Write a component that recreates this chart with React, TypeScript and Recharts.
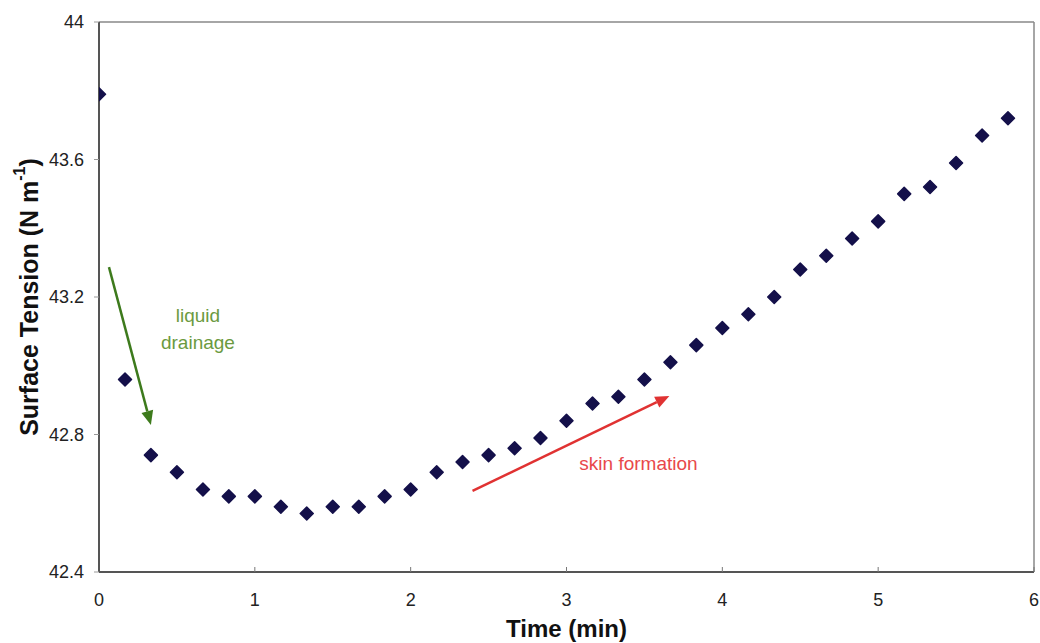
import React from "react";
import {
  ScatterChart,
  Scatter,
  XAxis,
  YAxis,
  ReferenceLine,
  ReferenceDot,
} from "recharts";

const times = [
  0, 0.167, 0.333, 0.5, 0.667, 0.833, 1.0, 1.167, 1.333, 1.5, 1.667, 1.833,
  2.0, 2.167, 2.333, 2.5, 2.667, 2.833, 3.0, 3.167, 3.333, 3.5, 3.667, 3.833,
  4.0, 4.167, 4.333, 4.5, 4.667, 4.833, 5.0, 5.167, 5.333, 5.5, 5.667, 5.833,
];
const tension = [
  43.79, 42.96, 42.74, 42.69, 42.64, 42.62, 42.62, 42.59, 42.57, 42.59, 42.59,
  42.62, 42.64, 42.69, 42.72, 42.74, 42.76, 42.79, 42.84, 42.89, 42.91, 42.96,
  43.01, 43.06, 43.11, 43.15, 43.2, 43.28, 43.32, 43.37, 43.42, 43.5, 43.52,
  43.59, 43.67, 43.72,
];
const xTicks = [0, 1, 2, 3, 4, 5, 6];
const yTicks = [42.4, 42.8, 43.2, 43.6, 44];

const drainageArrow = [
  { x: 0.064, y: 43.287 },
  { x: 0.333, y: 42.828 },
];
const skinArrow = [
  { x: 2.397, y: 42.636 },
  { x: 3.66, y: 42.912 },
];
const annotations = [
  { x: 0.635, y: 43.145, text: "liquid", color: "#6b9a40" },
  { x: 0.635, y: 43.069, text: "drainage", color: "#6b9a40" },
  { x: 3.462, y: 42.717, text: "skin formation", color: "#e8484b" },
];

const data = times.map((t, i) => ({ t, v: tension[i] }));

const FONT = "'Liberation Sans', Arial, sans-serif";

const Diamond = (props: any) => {
  const { cx, cy } = props;
  if (cx == null || cy == null) return null;
  const r = 6.5;
  return (
    <path
      d={`M${cx},${cy - r} L${cx + r},${cy} L${cx},${cy + r} L${cx - r},${cy} Z`}
      fill="#14104a"
      stroke="#14104a"
      strokeWidth={1.5}
      strokeLinejoin="round"
    />
  );
};

const makeArrow = (color: string, width: number) => (props: any) => {
  const { x1, y1, x2, y2 } = props;
  if ([x1, y1, x2, y2].some((v) => v == null || isNaN(v))) return null;
  const dx = x2 - x1;
  const dy = y2 - y1;
  const len = Math.sqrt(dx * dx + dy * dy);
  const ux = dx / len;
  const uy = dy / len;
  const hl = 14;
  const hw = 6;
  const bx = x2 - ux * hl;
  const by = y2 - uy * hl;
  const px = -uy;
  const py = ux;
  return (
    <g>
      <line x1={x1} y1={y1} x2={bx} y2={by} stroke={color} strokeWidth={width} />
      <polygon
        points={`${x2},${y2} ${bx + px * hw},${by + py * hw} ${bx - px * hw},${by - py * hw}`}
        fill={color}
      />
    </g>
  );
};

const YLabel = (props: any) => {
  const vb = props.viewBox || {};
  const cx = (vb.x ?? 0) + 29;
  const cy = (vb.y ?? 0) + (vb.height ?? 0) / 2;
  return (
    <text
      x={cx}
      y={cy}
      transform={`rotate(-90, ${cx}, ${cy})`}
      textAnchor="middle"
      dominantBaseline="central"
      fontFamily={FONT}
      fontWeight="bold"
      fontSize={25}
      fill="#111"
    >
      Surface Tension (N m
      <tspan fontSize={16} dy={-10}>
        -1
      </tspan>
      <tspan dy={10}>)</tspan>
    </text>
  );
};

const XLabel = (props: any) => {
  const vb = props.viewBox || {};
  const cx = (vb.x ?? 0) + (vb.width ?? 0) / 2;
  return (
    <text
      x={cx}
      y={637}
      textAnchor="middle"
      fontFamily={FONT}
      fontWeight="bold"
      fontSize={24}
      fill="#111"
    >
      Time (min)
    </text>
  );
};

const fmt = (v: number) => String(Number(v.toFixed(1)));

export default function App() {
  return (
    <div style={{ position: "absolute", left: 0, top: 0, background: "#fff" }}>
      <ScatterChart
        width={1040}
        height={643}
        margin={{ top: 22, right: 6, bottom: 0, left: 0 }}
      >
        <XAxis
          type="number"
          dataKey="t"
          domain={[0, 6]}
          ticks={xTicks}
          tickFormatter={fmt}
          height={71}
          tickSize={-5}
          tickMargin={26}
          axisLine={{ stroke: "#555", strokeWidth: 2 }}
          tickLine={{ stroke: "#777" }}
          tick={{ fill: "#222", fontSize: 18, fontFamily: FONT }}
          label={<XLabel />}
          allowDataOverflow
        />
        <YAxis
          type="number"
          dataKey="v"
          domain={[42.4, 44]}
          ticks={yTicks}
          tickFormatter={fmt}
          width={99}
          tickSize={5}
          tickMargin={10}
          axisLine={{ stroke: "#555", strokeWidth: 2 }}
          tickLine={{ stroke: "#999" }}
          tick={{ fill: "#222", fontSize: 18, fontFamily: FONT }}
          label={<YLabel />}
          allowDataOverflow
        />
        <ReferenceLine y={44} stroke="#888" strokeWidth={1.5} />
        <ReferenceLine x={6} stroke="#888" strokeWidth={1.5} />
        <ReferenceLine
          segment={drainageArrow}
          shape={makeArrow("#3d7a1c", 2.5)}
          ifOverflow="visible"
        />
        <ReferenceLine
          segment={skinArrow}
          shape={makeArrow("#e03232", 2.5)}
          ifOverflow="visible"
        />
        {annotations.map((a, i) => (
          <ReferenceDot
            key={i}
            x={a.x}
            y={a.y}
            r={0}
            ifOverflow="visible"
            shape={(p: any) => (
              <text
                x={p.cx}
                y={p.cy}
                textAnchor="middle"
                dominantBaseline="central"
                fontFamily={FONT}
                fontSize={19}
                fill={a.color}
              >
                {a.text}
              </text>
            )}
          />
        ))}
        <Scatter data={data} shape={<Diamond />} isAnimationActive={false} />
      </ScatterChart>
    </div>
  );
}
